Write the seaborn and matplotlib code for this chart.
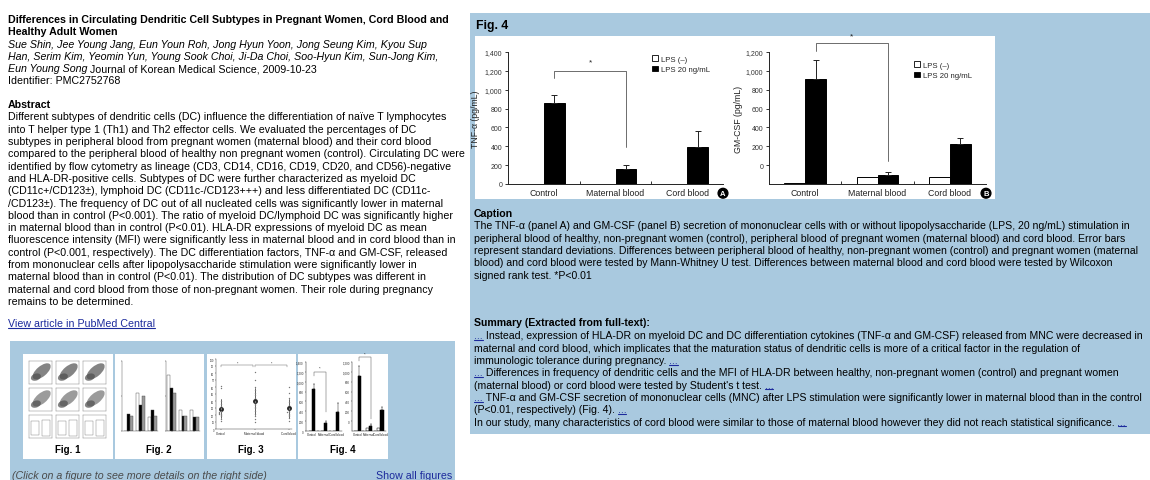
import matplotlib
matplotlib.use("Agg")
import matplotlib.pyplot as plt
from matplotlib.patches import Rectangle, Ellipse, Patch
from matplotlib.lines import Line2D
from matplotlib.font_manager import FontProperties
import pandas as pd
import seaborn as sns

# ---------------- data ----------------
GROUPS = ["Control", "Maternal blood", "Cord blood"]
LPS_LEVELS = ["LPS (–)", "LPS 20 ng/mL"]

TNF_UNSTIM = [0, 0, 0]
TNF_LPS = [861, 156, 393]
TNF_LPS_SD = [88, 43, 167]
TNF_TICKS = [0, 200, 400, 600, 800, 1000, 1200, 1400]

GM_UNSTIM = [-192, -131, -131]
GM_LPS = [915, -100, 220]
GM_LPS_SD = [203, 32, 70]
GM_TICKS = [0, 200, 400, 600, 800, 1000, 1200]
GM_FLOOR = -200

# Fig. 2 thumbnail (three series per group, % scale)
FIG2_SERIES = ["s1", "s2", "s3"]
FIG2_LEFT = {"s1": [0, 55, 20], "s2": [25, 37, 30], "s3": [22, 50, 22]}
FIG2_RIGHT = {"s1": [80, 30, 30], "s2": [62, 22, 20], "s3": [55, 22, 20]}

# Fig. 3 thumbnail (myeloid / lymphoid DC ratio)
FIG3_CONTROL = [12, 15, 18, 20, 21, 22, 23, 24, 25, 26, 28, 30, 33, 36, 40, 58, 62]
FIG3_MATERNAL = [10, 14, 18, 22, 26, 30, 32, 34, 36, 38, 40, 44, 48, 52, 56, 60, 70, 82]
FIG3_CORD = [12, 16, 18, 20, 22, 24, 25, 26, 28, 30, 34, 38, 44, 52, 60]

# ---------------- page text ----------------
TITLE = ["Differences in Circulating Dendritic Cell Subtypes in Pregnant Women, Cord Blood and",
         "Healthy Adult Women"]
AUTHORS = ["Sue Shin, Jee Young Jang, Eun Youn Roh, Jong Hyun Yoon, Jong Seung Kim, Kyou Sup",
           "Han, Serim Kim, Yeomin Yun, Young Sook Choi, Ji-Da Choi, Soo-Hyun Kim, Sun-Jong Kim,"]
LAST_AUTHOR = "Eun Young Song"
JOURNAL = " Journal of Korean Medical Science, 2009-10-23"
IDENT = "Identifier: PMC2752768"
ABSTRACT = [
    "Different subtypes of dendritic cells (DC) influence the differentiation of naïve T lymphocytes",
    "into T helper type 1 (Th1) and Th2 effector cells. We evaluated the percentages of DC",
    "subtypes in peripheral blood from pregnant women (maternal blood) and their cord blood",
    "compared to the peripheral blood of healthy non pregnant women (control). Circulating DC were",
    "identified by flow cytometry as lineage (CD3, CD14, CD16, CD19, CD20, and CD56)-negative",
    "and HLA-DR-positive cells. Subtypes of DC were further characterized as myeloid DC",
    "(CD11c+/CD123±), lymphoid DC (CD11c-/CD123+++) and less differentiated DC (CD11c-",
    "/CD123±). The frequency of DC out of all nucleated cells was significantly lower in maternal",
    "blood than in control (P<0.001). The ratio of myeloid DC/lymphoid DC was significantly higher",
    "in maternal blood than in control (P<0.01). HLA-DR expressions of myeloid DC as mean",
    "fluorescence intensity (MFI) were significantly less in maternal blood and in cord blood than in",
    "control (P<0.001, respectively). The DC differentiation factors, TNF-α and GM-CSF, released",
    "from mononuclear cells after lipopolysaccharide stimulation were significantly lower in",
    "maternal blood than in control (P<0.01). The distribution of DC subtypes was different in",
    "maternal and cord blood from those of non-pregnant women. Their role during pregnancy",
    "remains to be determined.",
]
CAPTION = [
    "The TNF-α (panel A) and GM-CSF (panel B) secretion of mononuclear cells with or without lipopolysaccharide (LPS, 20 ng/mL) stimulation in",
    "peripheral blood of healthy, non-pregnant women (control), peripheral blood of pregnant women (maternal blood) and cord blood. Error bars",
    "represent standard deviations. Differences between peripheral blood of healthy, non-pregnant women (control) and pregnant women (maternal",
    "blood) and cord blood were tested by Mann-Whitney U test. Differences between maternal blood and cord blood were tested by Wilcoxon",
    "signed rank test. *P<0.01",
]
SUMMARY = [
    [("...", "link"), (" Instead, expression of HLA-DR on myeloid DC and DC differentiation cytokines (TNF-α and GM-CSF) released from MNC were decreased in", "n")],
    [("maternal and cord blood, which implicates that the maturation status of dendritic cells is more of a critical factor in the regulation of", "n")],
    [("immunologic tolerance during pregnancy. ", "n"), ("...", "link")],
    [("...", "link"), (" Differences in frequency of dendritic cells and the MFI of HLA-DR between healthy, non-pregnant women (control) and pregnant women", "n")],
    [("(maternal blood) or cord blood were tested by Student's t test. ", "n"), ("...", "link")],
    [("...", "link"), (" TNF-α and GM-CSF secretion of mononuclear cells (MNC) after LPS stimulation were significantly lower in maternal blood than in the control", "n")],
    [("(P<0.01, respectively) (Fig. 4). ", "n"), ("...", "link")],
    [("In our study, many characteristics of cord blood were similar to those of maternal blood however they did not reach statistical significance. ", "n"), ("...", "link")],
]

# ---------------- styling ----------------
W, H, DPI = 1150, 481, 100
PANEL_BLUE = "#a9c9df"
LINK = "#1c2a9c"
BODY = 7.7
BODY_R = 7.55
BODY_FONT = ["Liberation Sans", "DejaVu Sans"]
LINE = 12.3

sns.set_theme(style="ticks")
plt.rcParams["font.family"] = BODY_FONT
plt.rcParams["axes.linewidth"] = 0.7

fig = plt.figure(figsize=(W / DPI, H / DPI), dpi=DPI)
fig.patch.set_facecolor("white")
renderer = fig.canvas.get_renderer()


def fx(x):
    return x / W


def fy(y):
    return 1 - y / H


def px_axes(left, top, right, bottom):
    return fig.add_axes([fx(left), fy(bottom), (right - left) / W, (bottom - top) / H])


def rect(left, top, right, bottom, color, z):
    fig.add_artist(Rectangle((fx(left), fy(bottom)), (right - left) / W, (bottom - top) / H,
                             transform=fig.transFigure, facecolor=color, edgecolor="none", zorder=z))


def style_of(kind, size):
    kw = dict(size=size, family=BODY_FONT)
    if kind in ("b",):
        kw["weight"] = "bold"
    if kind in ("i", "gi"):
        kw["style"] = "italic"
    return kw


def width_of(s, kind, size):
    fp = FontProperties(**style_of(kind, size))
    w1, _, _ = renderer.get_text_width_height_descent("X" + s + "X", fp, ismath=False)
    w0, _, _ = renderer.get_text_width_height_descent("XX", fp, ismath=False)
    return w1 - w0


def put_runs(x, y, runs, size=BODY):
    cx = x
    for s, kind in runs:
        color = {"link": LINK, "gi": "#4a4a4a"}.get(kind, "black")
        kw = style_of(kind, size)
        fig.text(fx(cx), fy(y), s, color=color, ha="left", va="baseline",
                 fontsize=kw["size"], fontweight=kw.get("weight", "normal"),
                 fontstyle=kw.get("style", "normal"), zorder=5)
        w = width_of(s, kind, size)
        if kind == "link":
            fig.add_artist(Line2D([fx(cx), fx(cx + w)], [fy(y + 1.6)] * 2, color=LINK, lw=0.8, zorder=5))
        cx += w
    return cx


# ---------------- backgrounds ----------------
rect(470, 14, 1150, 435, PANEL_BLUE, -3)
rect(475, 37, 995, 200, "white", -2)
rect(10, 342, 455, 481, PANEL_BLUE, -3)
for l, r in [(23, 113), (115, 204), (207, 296), (298, 388)]:
    rect(l, 355, r, 460, "white", -2)

# ---------------- left column text ----------------
y = 23
for line in TITLE:
    put_runs(8, y, [(line, "b")])
    y += LINE
for line in AUTHORS:
    put_runs(8, y, [(line, "i")])
    y += LINE
put_runs(8, y, [(LAST_AUTHOR, "i"), (JOURNAL, "n")])
y += LINE
put_runs(8, y, [(IDENT, "n")])
put_runs(8, 108, [("Abstract", "b")])
for i, line in enumerate(ABSTRACT):
    put_runs(8, 120.5 + i * LINE, [(line, "n")])
put_runs(8, 327, [("View article in PubMed Central", "link")])
put_runs(12, 479, [("(Click on a figure to see more details on the right side)", "gi")])
sw = width_of("Show all figures", "link", BODY)
put_runs(452 - sw, 479, [("Show all figures", "link")])
for cx, lab in [(68, "Fig. 1"), (159, "Fig. 2"), (251, "Fig. 3"), (343, "Fig. 4")]:
    w = width_of(lab, "b", 7.0)
    put_runs(cx - w / 2, 453, [(lab, "b")], size=7.0)

# ---------------- right column text ----------------
put_runs(476, 29.5, [("Fig. 4", "b")], size=8.8)
put_runs(474, 217, [("Caption", "b")], size=BODY_R)
for i, line in enumerate(CAPTION):
    put_runs(474, 229.5 + i * LINE, [(line, "n")], size=BODY_R)
put_runs(474, 326, [("Summary (Extracted from full-text):", "b")], size=BODY_R)
for i, runs in enumerate(SUMMARY):
    put_runs(474, 339.5 + i * LINE, runs, size=BODY_R)


# ---------------- bar panels ----------------
def draw_panel(ax, unstim, stim, stim_sd, floor, top, ticks, ylabel, bracket, star_y,
               legend_xy, letter_xy, mini=False):
    df = pd.DataFrame({
        "group": GROUPS * 2,
        "lps": [LPS_LEVELS[0]] * 3 + [LPS_LEVELS[1]] * 3,
        "height": [v - floor for v in list(unstim) + list(stim)],
    })
    lw = 0.35 if mini else 0.7
    sns.barplot(data=df, x="group", y="height", hue="lps", order=GROUPS, hue_order=LPS_LEVELS,
                palette={LPS_LEVELS[0]: "white", LPS_LEVELS[1]: "black"}, width=0.58,
                bottom=floor, edgecolor="black", linewidth=lw, errorbar=None, legend=False, ax=ax)
    for bar, sd in zip(ax.containers[1], stim_sd):
        cx = bar.get_x() + bar.get_width() / 2
        ytop = bar.get_y() + bar.get_height()
        ax.errorbar([cx], [ytop], yerr=[[0], [sd]], fmt="none", ecolor="#222222",
                    elinewidth=lw, capsize=1 if mini else 2.2, capthick=lw, zorder=3)
    ax.set_xlim(-0.5, 2.5)
    ax.set_ylim(floor, top)
    ax.set_yticks(ticks)
    fs = 2.2 if mini else 5.0
    ax.set_yticklabels([f"{t:,}" for t in ticks], fontsize=fs, color="#333333")
    ax.set_xticks(range(len(GROUPS)))
    ax.set_xticklabels(GROUPS if not mini else ["Control", "Maternal", "Cord blood"],
                       fontsize=2.2 if mini else 6.3, color="#222222")
    ax.set_xticks([0.5, 1.5], minor=True)
    ax.tick_params(axis="x", which="major", length=0, pad=1 if mini else 3)
    ax.tick_params(axis="x", which="minor", direction="in", length=1 if mini else 2.5,
                   width=lw, color="#333333")
    ax.tick_params(axis="y", length=1 if mini else 2.5, width=lw, pad=0.6 if mini else 1.5,
                   color="#333333")
    for side in ("top", "right"):
        ax.spines[side].set_visible(False)
    for side in ("left", "bottom"):
        ax.spines[side].set_linewidth(lw)
        ax.spines[side].set_color("#222222")
    ax.set_xlabel("")
    ax.set_ylabel(ylabel if not mini else "", fontsize=6.3, color="#222222")
    ax.set_facecolor("none")
    # significance bracket between Control and Maternal blood (stimulated bars)
    xl = ax.containers[1][0].get_x() + ax.containers[1][0].get_width() / 2
    xr = ax.containers[1][1].get_x() + ax.containers[1][1].get_width() / 2
    b_left, b_top, b_right = bracket
    ax.plot([xl, xl, xr, xr], [b_left, b_top, b_top, b_right], color="#555555",
            lw=0.35 if mini else 0.6, clip_on=False, zorder=4)
    ax.text((xl + xr) / 2, star_y, "*", ha="center", va="center",
            fontsize=3 if mini else 6, color="#222222", clip_on=False)
    if not mini:
        handles = [Patch(facecolor="white", edgecolor="black", linewidth=0.6),
                   Patch(facecolor="black", edgecolor="black", linewidth=0.6)]
        ax.legend(handles, LPS_LEVELS, loc="upper left", bbox_to_anchor=legend_xy, frameon=False,
                  fontsize=5.6, handlelength=0.75, handleheight=0.75, handletextpad=0.4,
                  labelspacing=0.35, borderaxespad=0, borderpad=0)
        ax.text(letter_xy[0], letter_xy[1], letter_xy[2], transform=ax.transAxes,
                ha="center", va="center", color="white", fontsize=5.5, fontweight="bold",
                bbox=dict(boxstyle="circle,pad=0.18", fc="black", ec="black"), clip_on=False)


axA = px_axes(508, 53, 723, 185)
draw_panel(axA, TNF_UNSTIM, TNF_LPS, TNF_LPS_SD, 0, 1400, TNF_TICKS, "TNF-α (pg/mL)",
           (1123, 1198, 390), 1293, (0.67, 0.975), (1.0, -0.07, "A"))
axA.yaxis.set_label_coords(-0.13, 0.5)

axB = px_axes(769, 53, 986, 185)
draw_panel(axB, GM_UNSTIM, GM_LPS, GM_LPS_SD, GM_FLOOR, 1200, GM_TICKS, "GM-CSF (pg/mL)",
           (1213, 1295, 46), 1370, (0.67, 0.93), (1.0, -0.07, "B"))
axB.yaxis.set_label_coords(-0.12, 0.5)

# ---------------- thumbnails ----------------
# Fig. 4 (miniature of the panels above)
tA = px_axes(306, 363, 342, 432)
draw_panel(tA, TNF_UNSTIM, TNF_LPS, TNF_LPS_SD, 0, 1400, TNF_TICKS, "",
           (1123, 1198, 390), 1293, None, None, mini=True)
tB = px_axes(352, 363, 386, 432)
draw_panel(tB, GM_UNSTIM, GM_LPS, GM_LPS_SD, GM_FLOOR, 1200, GM_TICKS, "",
           (1213, 1295, 46), 1370, None, None, mini=True)


# Fig. 2 (grouped bars)
def mini_bars(ax, series):
    df = pd.DataFrame({
        "group": [0, 1, 2] * 3,
        "series": sum([[s] * 3 for s in FIG2_SERIES], []),
        "value": sum([series[s] for s in FIG2_SERIES], []),
    })
    sns.barplot(data=df, x="group", y="value", hue="series", hue_order=FIG2_SERIES,
                palette={"s1": "white", "s2": "black", "s3": "#9a9a9a"}, width=0.75,
                edgecolor="#444444", linewidth=0.3, errorbar=None, legend=False, ax=ax)
    ax.set_ylim(0, 100)
    ax.set_xlabel("")
    ax.set_ylabel("")
    ax.set_xticklabels([])
    ax.set_yticklabels([])
    ax.tick_params(length=0.8, width=0.3)
    for side in ("top", "right"):
        ax.spines[side].set_visible(False)
    for side in ("left", "bottom"):
        ax.spines[side].set_linewidth(0.3)
        ax.spines[side].set_color("#444444")
    ax.set_facecolor("none")


mini_bars(px_axes(122, 362, 158, 432), FIG2_LEFT)
mini_bars(px_axes(166, 362, 200, 432), FIG2_RIGHT)

# Fig. 3 (dot plot)
ax3 = px_axes(216, 360, 292, 430)
df3 = pd.DataFrame({
    "group": ["Control"] * len(FIG3_CONTROL) + ["Maternal blood"] * len(FIG3_MATERNAL)
             + ["Cord blood"] * len(FIG3_CORD),
    "ratio": FIG3_CONTROL + FIG3_MATERNAL + FIG3_CORD,
})
sns.swarmplot(data=df3, x="group", y="ratio", order=GROUPS, color="#777777", size=1.0, ax=ax3)
sns.pointplot(data=df3, x="group", y="ratio", order=GROUPS, color="#222222", errorbar="sd",
              linestyle="none", markersize=1.5, err_kws={"linewidth": 0.5}, ax=ax3)
ax3.set_ylim(0, 100)
ax3.set_xlabel("")
ax3.set_ylabel("")
ax3.set_xticks(range(3))
ax3.set_xticklabels(GROUPS, fontsize=2.2, rotation=0)
ax3.set_yticks(range(0, 101, 10))
ax3.set_yticklabels([str(v) for v in range(0, 101, 10)], fontsize=1.8)
ax3.tick_params(length=0.8, width=0.3, pad=0.5)
for side in ("top", "right"):
    ax3.spines[side].set_visible(False)
for side in ("left", "bottom"):
    ax3.spines[side].set_linewidth(0.3)
ax3.set_facecolor("none")
for a, b in [(0, 1), (1, 2)]:
    ax3.plot([a, a, b - 0.05, b - 0.05], [88, 92, 92, 88], color="#555555", lw=0.3)
    ax3.text((a + b) / 2, 95, "*", fontsize=2.5, ha="center", va="center")

# Fig. 1 (flow cytometry panels)
for row in range(3):
    for col in range(3):
        left = 29 + col * 27
        top = 362 + row * 27
        axf = px_axes(left, top, left + 23, top + 23)
        axf.set_xlim(0, 1)
        axf.set_ylim(0, 1)
        axf.set_xticks([])
        axf.set_yticks([])
        for s in axf.spines.values():
            s.set_linewidth(0.3)
            s.set_color("#777777")
        axf.set_facecolor("white")
        if row < 2:
            axf.add_patch(Ellipse((0.55, 0.55), 0.95, 0.45, angle=40,
                                  facecolor="#6f6f6f" if row == 0 else "#8a8a8a",
                                  edgecolor="none", alpha=0.85))
            axf.add_patch(Ellipse((0.3, 0.3), 0.45, 0.3, angle=20,
                                  facecolor="#4f4f4f", edgecolor="none", alpha=0.7))
        else:
            axf.add_patch(Rectangle((0.1, 0.15), 0.35, 0.6, facecolor="none",
                                    edgecolor="#777777", lw=0.3))
            axf.add_patch(Rectangle((0.55, 0.1), 0.35, 0.7, facecolor="none",
                                    edgecolor="#777777", lw=0.3))

fig.savefig("out.png", dpi=DPI, facecolor="white")
